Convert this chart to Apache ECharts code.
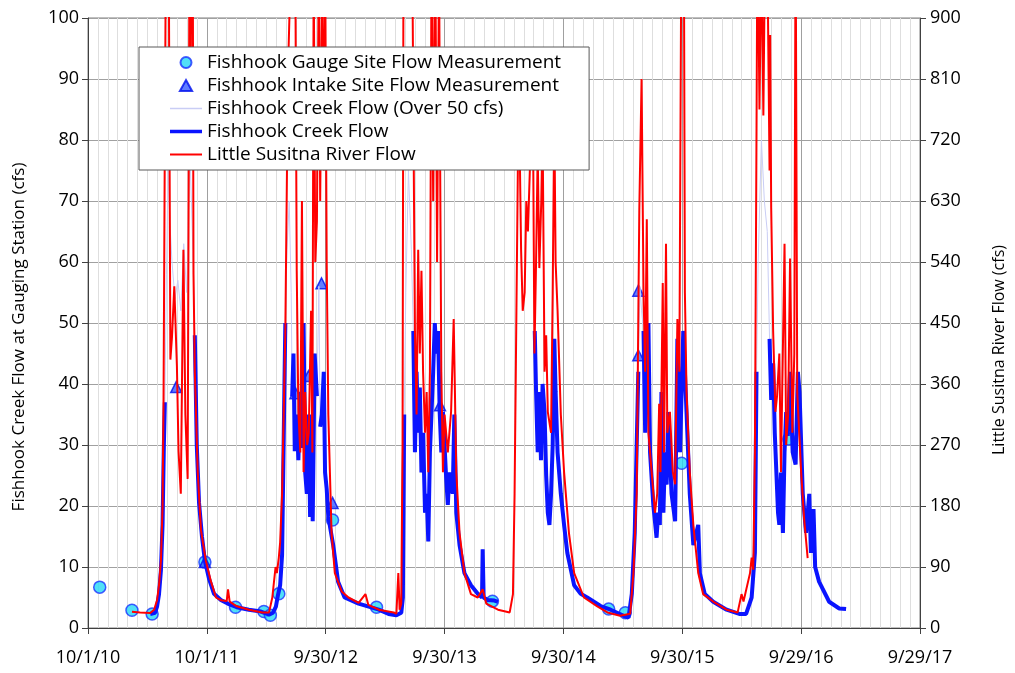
<!DOCTYPE html>
<html>
<head>
<meta charset="utf-8">
<script src="https://cdn.jsdelivr.net/npm/echarts@6/dist/echarts.min.js"></script>
<style>
  html, body { margin: 0; padding: 0; background: #fff; }
  #chart { width: 1015px; height: 673px; }
</style>
</head>
<body>
<div id="chart"></div>
<script>
const gaugeDates = ['2010-11-06', '2011-02-13', '2011-04-16', '2011-09-25', '2011-12-28', '2012-03-24', '2012-04-13',
  '2012-05-09', '2012-10-21', '2013-03-05', '2014-02-24', '2015-02-16', '2015-04-08', '2015-09-28', '2016-08-22'];
const gaugeValues = [6.7, 2.9, 2.3, 10.8, 3.4, 2.7, 2.1, 5.6, 17.7, 3.4, 4.4, 3.1, 2.5, 27, 31];

const intakeDates = ['2011-06-29', '2011-09-25', '2012-06-29', '2012-08-08', '2012-09-17', '2012-10-21',
  '2013-09-16', '2015-05-18', '2015-05-18'];
const intakeValues = [39.5, 10.8, 38.5, 41.3, 56.5, 20.5, 36.5, 55.3, 44.7];

// Fishhook Creek at the gauging station (left axis)
const fishhookFlow = [
  ['2011-04-10', 2.3], ['2011-04-25', 2.5], ['2011-05-01', 3.5], ['2011-05-07', 5.5], ['2011-05-13', 9.5],
  ['2011-05-18', 17], ['2011-05-22', 30], ['2011-05-25', 37], ['2011-05-30', 58], ['2011-06-04', 75],
  ['2011-06-10', 66], ['2011-06-16', 60], ['2011-06-25', 54], ['2011-07-04', 57], ['2011-07-13', 52],
  ['2011-07-22', 63], ['2011-07-31', 55], ['2011-08-10', 78], ['2011-08-19', 62], ['2011-08-25', 48],
  ['2011-08-31', 30], ['2011-09-07', 20.5], ['2011-09-16', 15], ['2011-09-25', 11], ['2011-10-08', 8],
  ['2011-10-23', 5.6], ['2011-11-13', 4.6], ['2011-12-04', 4], ['2012-01-01', 3.4], ['2012-02-07', 3],
  ['2012-03-15', 2.7], ['2012-04-09', 2.2], ['2012-04-21', 2.5], ['2012-04-30', 3.5], ['2012-05-06', 5.3],
  ['2012-05-13', 7], ['2012-05-19', 12], ['2012-05-25', 35], ['2012-05-29', 50], ['2012-06-03', 62],
  ['2012-06-10', 70], ['2012-06-16', 55], ['2012-06-19', 38], ['2012-06-23', 45], ['2012-06-27', 29],
  ['2012-07-03', 35], ['2012-07-08', 27.5], ['2012-07-14', 38.7], ['2012-07-19', 29.5], ['2012-07-24', 50],
  ['2012-07-29', 25.5], ['2012-08-03', 22], ['2012-08-09', 35], ['2012-08-13', 18.2], ['2012-08-18', 35],
  ['2012-08-21', 17.5], ['2012-08-27', 45], ['2012-09-03', 38], ['2012-09-09', 56], ['2012-09-13', 33],
  ['2012-09-18', 35], ['2012-09-24', 42], ['2012-09-28', 25.5], ['2012-10-03', 22.8], ['2012-10-08', 18.2],
  ['2012-10-23', 13.6], ['2012-11-07', 7.6], ['2012-11-27', 5], ['2013-01-09', 4], ['2013-03-12', 3],
  ['2013-04-11', 2.3], ['2013-05-05', 2.1], ['2013-05-20', 2.5], ['2013-05-25', 5], ['2013-05-29', 35],
  ['2013-06-03', 55], ['2013-06-11', 75], ['2013-06-20', 62], ['2013-06-26', 48.7], ['2013-07-01', 28.8],
  ['2013-07-06', 42], ['2013-07-11', 32], ['2013-07-16', 39.4], ['2013-07-21', 25.5], ['2013-07-26', 32],
  ['2013-08-01', 18.9], ['2013-08-06', 22], ['2013-08-11', 14.2], ['2013-08-16', 28.8], ['2013-08-21', 35.4],
  ['2013-08-26', 42], ['2013-08-31', 50], ['2013-09-05', 45], ['2013-09-10', 48.7], ['2013-09-15', 35.4],
  ['2013-09-20', 28.8], ['2013-09-25', 35.4], ['2013-10-04', 25.5], ['2013-10-10', 20.2], ['2013-10-15', 25.5],
  ['2013-10-25', 22], ['2013-10-30', 35], ['2013-11-05', 18.9], ['2013-11-15', 13.6], ['2013-11-30', 9],
  ['2013-12-20', 7], ['2014-01-10', 5.6], ['2014-01-23', 5], ['2014-01-25', 12.9], ['2014-01-28', 5],
  ['2014-02-09', 4.6], ['2014-03-02', 4.5], ['2014-03-13', 4.3], ['2014-05-01', null],
  ['2014-07-04', 48.7], ['2014-07-08', 38.7], ['2014-07-13', 28.8], ['2014-07-18', 38.7], ['2014-07-23', 27.5],
  ['2014-07-28', 40], ['2014-08-03', 35.4], ['2014-08-08', 25], ['2014-08-13', 18.9], ['2014-08-18', 16.9],
  ['2014-08-23', 22], ['2014-08-28', 30], ['2014-09-02', 47.4], ['2014-09-06', 38.7], ['2014-09-12', 28.8],
  ['2014-09-22', 22], ['2014-10-02', 16.9], ['2014-10-12', 12.3], ['2014-11-02', 7], ['2014-11-22', 5.6],
  ['2014-12-12', 5], ['2015-01-22', 3.6], ['2015-02-22', 3], ['2015-04-03', 2], ['2015-04-18', 1.7],
  ['2015-04-28', 5.6], ['2015-05-07', 15.6], ['2015-05-18', 42], ['2015-05-23', 56], ['2015-05-28', 52],
  ['2015-06-03', 48.7], ['2015-06-08', 32], ['2015-06-13', 45], ['2015-06-18', 50], ['2015-06-23', 28.8],
  ['2015-07-03', 20.2], ['2015-07-13', 14.8], ['2015-07-18', 18.9], ['2015-07-23', 16.9], ['2015-07-28', 38.7],
  ['2015-08-03', 18.9], ['2015-08-08', 28.8], ['2015-08-13', 23.5], ['2015-08-18', 35.4], ['2015-08-28', 22],
  ['2015-09-08', 17.5], ['2015-09-15', 47.4], ['2015-09-23', 28.8], ['2015-10-03', 48.7], ['2015-10-13', 35.4],
  ['2015-10-23', 22], ['2015-11-03', 13.6], ['2015-11-18', 16.9], ['2015-11-23', 9], ['2015-12-08', 5.6],
  ['2016-01-03', 4.3], ['2016-02-13', 3], ['2016-03-23', 2.3], ['2016-04-13', 2.3], ['2016-04-30', 5],
  ['2016-05-10', 12.3], ['2016-05-15', 42], ['2016-05-20', 60], ['2016-05-30', 80], ['2016-06-08', 70],
  ['2016-06-17', 65], ['2016-06-24', 47.4], ['2016-06-29', 37.4], ['2016-07-05', 43.4], ['2016-07-10', 32],
  ['2016-07-20', 18.9], ['2016-07-24', 16.9], ['2016-07-29', 25.5], ['2016-08-04', 15.6], ['2016-08-09', 28.8],
  ['2016-08-14', 35.4], ['2016-08-19', 31.5], ['2016-08-26', 42], ['2016-09-03', 28.8], ['2016-09-12', 26.8],
  ['2016-09-19', 42], ['2016-09-24', 38.7], ['2016-10-04', 22], ['2016-10-14', 15.6], ['2016-10-24', 22],
  ['2016-10-29', 12.3], ['2016-11-06', 19.5], ['2016-11-11', 10], ['2016-11-23', 7.6], ['2016-12-24', 4.3],
  ['2017-01-24', 3.2], ['2017-02-14', 3.1]
];

// Little Susitna River (right axis)
const susitnaFlow = [
  ['2011-02-13', 24], ['2011-03-10', 23], ['2011-04-10', 22], ['2011-04-22', 27], ['2011-05-01', 41],
  ['2011-05-07', 63], ['2011-05-13', 100], ['2011-05-18', 180], ['2011-05-21', 340], ['2011-05-24', 630],
  ['2011-05-28', 990], ['2011-06-02', 950], ['2011-06-06', 1000], ['2011-06-11', 396], ['2011-06-16', 430],
  ['2011-06-23', 504], ['2011-07-01', 387], ['2011-07-06', 261], ['2011-07-13', 198], ['2011-07-21', 558],
  ['2011-07-27', 315], ['2011-08-03', 220], ['2011-08-09', 1050], ['2011-08-12', 750], ['2011-08-15', 1100],
  ['2011-08-19', 940], ['2011-08-21', 522], ['2011-08-25', 378], ['2011-09-03', 230], ['2011-09-13', 144],
  ['2011-09-28', 99], ['2011-10-14', 68], ['2011-10-29', 45], ['2011-11-13', 41], ['2011-12-01', 40],
  ['2011-12-05', 57], ['2011-12-10', 39], ['2012-01-01', 32], ['2012-02-07', 27], ['2012-03-19', 23],
  ['2012-04-09', 23], ['2012-04-19', 45], ['2012-04-29', 90], ['2012-05-03', 81], ['2012-05-09', 104],
  ['2012-05-13', 126], ['2012-05-19', 198], ['2012-05-29', 438], ['2012-06-04', 720], ['2012-06-08', 855],
  ['2012-06-16', 1000], ['2012-06-21', 960], ['2012-06-28', 1050], ['2012-07-03', 527], ['2012-07-08', 319],
  ['2012-07-14', 259], ['2012-07-19', 630], ['2012-07-24', 230], ['2012-07-29', 348], ['2012-08-04', 270],
  ['2012-08-09', 288], ['2012-08-16', 468], ['2012-08-20', 259], ['2012-08-24', 980], ['2012-08-29', 540],
  ['2012-09-03', 600], ['2012-09-09', 1000], ['2012-09-13', 630], ['2012-09-19', 950], ['2012-09-24', 675],
  ['2012-09-28', 1020], ['2012-10-03', 540], ['2012-10-08', 315], ['2012-10-18', 140], ['2012-10-28', 81],
  ['2012-11-18', 54], ['2012-12-09', 45], ['2013-01-09', 37], ['2013-01-30', 50], ['2013-02-08', 34],
  ['2013-03-12', 27], ['2013-04-27', 23], ['2013-05-05', 21], ['2013-05-11', 81], ['2013-05-15', 27],
  ['2013-05-20', 36], ['2013-05-24', 270], ['2013-05-27', 1050], ['2013-06-05', 960], ['2013-06-14', 1100],
  ['2013-06-23', 980], ['2013-07-01', 438], ['2013-07-06', 315], ['2013-07-11', 558], ['2013-07-16', 405],
  ['2013-07-21', 527], ['2013-07-26', 378], ['2013-08-01', 288], ['2013-08-06', 348], ['2013-08-11', 230],
  ['2013-08-16', 378], ['2013-08-21', 1000], ['2013-08-26', 630], ['2013-09-01', 1050], ['2013-09-07', 540],
  ['2013-09-13', 980], ['2013-09-20', 378], ['2013-09-25', 230], ['2013-09-30', 315], ['2013-10-10', 259],
  ['2013-10-20', 319], ['2013-10-28', 456], ['2013-11-05', 230], ['2013-11-15', 140], ['2013-11-30', 81],
  ['2013-12-20', 50], ['2014-01-10', 45], ['2014-01-25', 57], ['2014-02-05', 36], ['2014-03-13', 27],
  ['2014-04-18', 23], ['2014-04-28', 50], ['2014-05-03', 198], ['2014-05-08', 438], ['2014-05-13', 675],
  ['2014-05-17', 765], ['2014-05-23', 558], ['2014-05-28', 468], ['2014-06-03', 495], ['2014-06-08', 630],
  ['2014-06-13', 585], ['2014-06-23', 738], ['2014-06-28', 792], ['2014-07-03', 405], ['2014-07-08', 540],
  ['2014-07-13', 702], ['2014-07-18', 531], ['2014-07-24', 630], ['2014-07-28', 738], ['2014-08-03', 378],
  ['2014-08-08', 432], ['2014-08-13', 319], ['2014-08-23', 288], ['2014-08-28', 495], ['2014-09-02', 756],
  ['2014-09-06', 540], ['2014-09-12', 468], ['2014-09-22', 315], ['2014-10-02', 230], ['2014-10-17', 140],
  ['2014-11-02', 81], ['2014-12-02', 45], ['2015-01-12', 32], ['2015-02-12', 23], ['2015-03-23', 18],
  ['2015-04-23', 21], ['2015-05-03', 81], ['2015-05-13', 198], ['2015-05-21', 617], ['2015-05-28', 810],
  ['2015-06-03', 495], ['2015-06-08', 378], ['2015-06-13', 603], ['2015-06-18', 288], ['2015-06-28', 230],
  ['2015-07-08', 170], ['2015-07-15', 198], ['2015-07-21', 331], ['2015-07-25', 230], ['2015-08-01', 509],
  ['2015-08-05', 259], ['2015-08-11', 567], ['2015-08-15', 288], ['2015-08-23', 319], ['2015-09-01', 230],
  ['2015-09-08', 212], ['2015-09-15', 456], ['2015-09-21', 378], ['2015-09-28', 1100], ['2015-10-05', 1000],
  ['2015-10-08', 495], ['2015-10-13', 348], ['2015-10-23', 230], ['2015-11-03', 152], ['2015-11-18', 81],
  ['2015-12-03', 50], ['2016-01-03', 39], ['2016-02-13', 27], ['2016-03-18', 23], ['2016-03-30', 50],
  ['2016-04-05', 39], ['2016-04-25', 81], ['2016-04-30', 104], ['2016-05-05', 86], ['2016-05-10', 259],
  ['2016-05-15', 738], ['2016-05-18', 1050], ['2016-05-24', 765], ['2016-05-30', 1000], ['2016-06-05', 756],
  ['2016-06-11', 1050], ['2016-06-18', 960], ['2016-06-24', 675], ['2016-06-26', 875], ['2016-06-29', 620],
  ['2016-07-05', 438], ['2016-07-12', 319], ['2016-07-17', 342], ['2016-07-24', 405], ['2016-07-29', 230],
  ['2016-08-09', 567], ['2016-08-14', 270], ['2016-08-20', 315], ['2016-08-26', 545], ['2016-09-02', 288],
  ['2016-09-08', 405], ['2016-09-12', 1050], ['2016-09-17', 348], ['2016-09-29', 230], ['2016-10-08', 162],
  ['2016-10-19', 103]
];

const leftTicks = { min: 0, max: 100, step: 10 };
const rightTicks = { min: 0, max: 900, step: 90 };

const FONT = '"Open Sans", sans-serif';
const START = Date.UTC(2010, 9, 1);
const dayOf = s => (Date.parse(s) - START) / 864e5;
const xLabel = d => {
  const t = new Date(START + d * 864e5);
  return (t.getUTCMonth() + 1) + '/' + t.getUTCDate() + '/' + String(t.getUTCFullYear()).slice(2);
};

const GAUGE = 'Fishhook Gauge Site Flow Measurement';
const INTAKE = 'Fishhook Intake Site Flow Measurement';
const OVER50 = 'Fishhook Creek Flow (Over 50 cfs)';
const CREEK = 'Fishhook Creek Flow';
const SUSITNA = 'Little Susitna River Flow';

const chart = echarts.init(document.getElementById('chart'));
chart.setOption({
  animation: false,
  grid: { left: 88, right: 90, top: 18, bottom: 45, show: true, borderColor: '#7f7f7f', borderWidth: 1 },
  legend: {
    z: 20,
    orient: 'vertical',
    left: 139,
    top: 47,
    padding: [4, 28, 4, 31],
    backgroundColor: '#fff',
    borderColor: '#595959',
    borderWidth: 1,
    itemWidth: 32,
    itemHeight: 11,
    itemGap: 0,
    symbolKeepAspect: true,
    textStyle: { fontSize: 19, color: '#000', fontFamily: FONT, lineHeight: 23 },
    data: [
      { name: GAUGE, icon: 'circle' },
      { name: INTAKE, icon: 'path://M5,0L10,9L0,9Z' },
      { name: OVER50, icon: 'path://M0,0H32V1.5H0Z' },
      { name: CREEK, icon: 'path://M0,0H32V3.5H0Z' },
      { name: SUSITNA, icon: 'path://M0,0H32V2H0Z' }
    ]
  },
  xAxis: {
    type: 'value',
    min: 0,
    max: 2555,
    interval: 365,
    axisLine: { lineStyle: { color: '#404040' } },
    axisTick: { show: true, length: 6, lineStyle: { color: '#404040' } },
    axisLabel: { formatter: xLabel, margin: 21, fontSize: 18, color: '#000', fontFamily: FONT },
    splitLine: { show: true, lineStyle: { color: '#a0a0a0' } },
    minorTick: { show: false, splitNumber: 12 },
    minorSplitLine: { show: true, lineStyle: { color: '#dedede' } }
  },
  yAxis: [
    {
      type: 'value',
      min: leftTicks.min,
      max: leftTicks.max,
      interval: leftTicks.step,
      name: 'Fishhook Creek Flow at Gauging Station (cfs)',
      nameLocation: 'middle',
      nameRotate: 90,
      nameGap: 60,
      nameTextStyle: { fontSize: 17, color: '#000', fontFamily: FONT, padding: [0, 28, 0, 0] },
      axisLine: { show: true, lineStyle: { color: '#404040' } },
      axisTick: { show: true, length: 6, lineStyle: { color: '#404040' } },
      axisLabel: { margin: 9, fontSize: 18, color: '#000', fontFamily: FONT },
      splitLine: { show: true, lineStyle: { color: '#a0a0a0' } }
    },
    {
      type: 'value',
      position: 'right',
      min: rightTicks.min,
      max: rightTicks.max,
      interval: rightTicks.step,
      name: 'Little Susitna River Flow (cfs)',
      nameLocation: 'middle',
      nameRotate: 90,
      nameGap: 71,
      nameTextStyle: { fontSize: 16, color: '#000', fontFamily: FONT, padding: [0, 54, 0, 0] },
      axisLine: { show: true, lineStyle: { color: '#404040' } },
      axisTick: { show: true, length: 6, lineStyle: { color: '#404040' } },
      axisLabel: { margin: 10, fontSize: 18, color: '#000', fontFamily: FONT },
      splitLine: { show: false }
    }
  ],
  series: [
    {
      name: GAUGE,
      type: 'scatter',
      z: 2,
      symbol: 'circle',
      symbolSize: 12,
      itemStyle: { color: '#25d8f5', borderColor: '#1a33ff', borderWidth: 1.5 },
      data: gaugeDates.map((d, i) => [dayOf(d), gaugeValues[i]])
    },
    {
      name: INTAKE,
      type: 'scatter',
      z: 2,
      symbol: 'triangle',
      symbolSize: 11,
      itemStyle: { color: '#3a5cff', borderColor: '#0010ee', borderWidth: 1.5 },
      data: intakeDates.map((d, i) => [dayOf(d), intakeValues[i]])
    },
    {
      name: OVER50,
      type: 'line',
      z: 3,
      symbol: 'none',
      itemStyle: { color: '#c9cdf5' },
      lineStyle: { color: '#c9cdf5', width: 1 },
      data: fishhookFlow.map(([d, v]) => [dayOf(d), v])
    },
    {
      name: CREEK,
      type: 'line',
      z: 4,
      symbol: 'none',
      itemStyle: { color: '#0a14ff' },
      lineStyle: { color: '#0a14ff', width: 4 },
      data: fishhookFlow.map(([d, v]) => [dayOf(d), v != null && v <= 50 ? v : null])
    },
    {
      name: SUSITNA,
      type: 'line',
      yAxisIndex: 1,
      z: 5,
      symbol: 'none',
      itemStyle: { color: '#ff0000' },
      lineStyle: { color: '#ff0000', width: 2 },
      data: susitnaFlow.map(([d, v]) => [dayOf(d), v])
    }
  ]
});
</script>
</body>
</html>
